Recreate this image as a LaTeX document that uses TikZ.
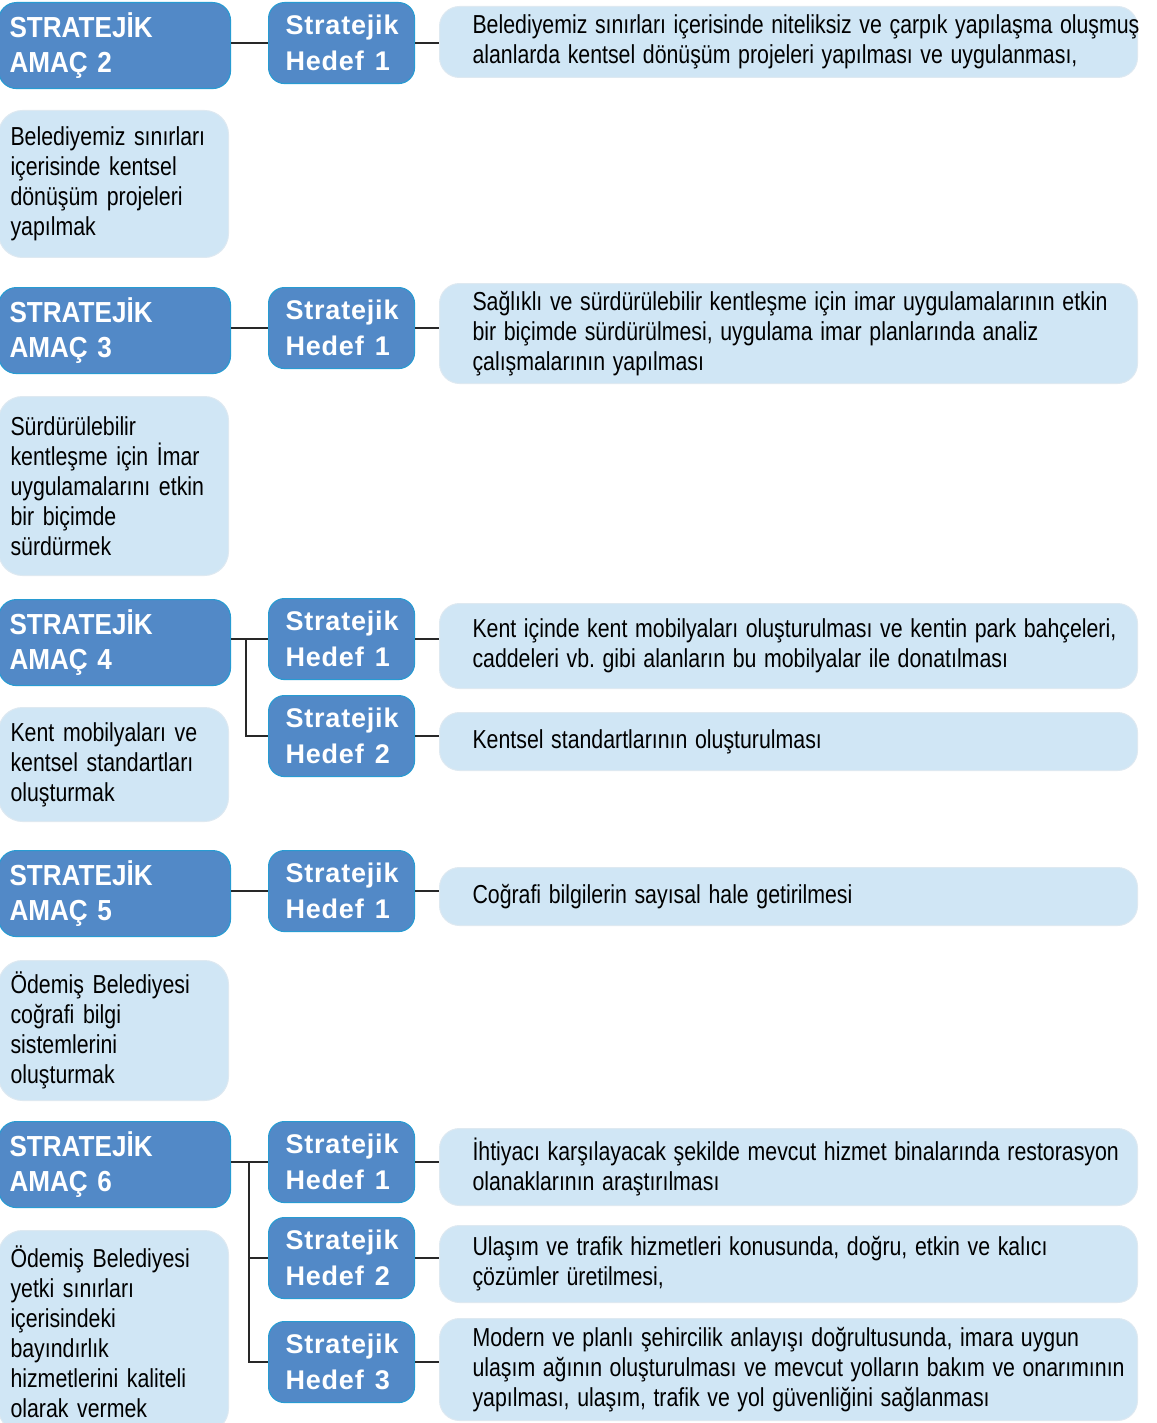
\documentclass[tikz,border=0pt]{standalone}
\usepackage{fontspec}
\setmainfont{Liberation Sans}
\newfontfamily\bodyf[FakeStretch=0.82]{Liberation Sans}
\newfontfamily\titlef[FakeStretch=0.9]{Liberation Sans}
\newfontfamily\hedeff[LetterSpace=3]{Liberation Sans}
\definecolor{dkblue}{RGB}{82,137,199}
\definecolor{dkedge}{RGB}{40,155,210}
\definecolor{ltblue}{RGB}{208,230,245}
\definecolor{ltedge}{RGB}{222,233,241}
\definecolor{conn}{RGB}{40,40,40}
\newcommand{\li}[1]{\mbox{\spaceskip=7.6pt\xspaceskip=7.6pt #1}}
\tikzset{
  amac/.style={anchor=north west, rounded corners=18pt, fill=dkblue, draw=dkedge, line width=1.1pt,
    minimum height=86pt, text width=210pt, inner xsep=11pt, inner ysep=2pt, align=left, text=white,
    font={\titlef\bfseries\fontsize{29}{35}\selectfont}},
  hedef/.style={anchor=north west, rounded corners=16pt, fill=dkblue, draw=dkedge, line width=1.1pt,
    minimum height=81pt, text width=112pt, inner xsep=17pt, inner ysep=2pt, align=left, text=white,
    font={\hedeff\bfseries\fontsize{27}{36}\selectfont}},
  desc/.style={anchor=north west, rounded corners=20pt, fill=ltblue, draw=ltedge, line width=1pt,
    text width=632pt, inner xsep=33pt, inner ysep=2pt, align=left, text=black,
    font={\bodyf\fontsize{26}{30}\selectfont}},
  lbox/.style={anchor=north west, rounded corners=24pt, fill=ltblue, draw=ltedge, line width=1pt,
    text width=206pt, inner xsep=12pt, inner ysep=2pt, align=left, text=black,
    font={\bodyf\fontsize{26}{30}\selectfont}},
  link/.style={draw=conn, line width=1.2pt}
}
\begin{document}
\begin{tikzpicture}[x=1pt,y=-1pt]
\useasboundingbox (0,0) rectangle (1156,1423);
% ---------- AMAC 2
\node[amac] (a2) at (-2,2) {STRATEJİK\\AMAÇ 2};
\node[hedef] (h21) at (268,2) {Stratejik\\Hedef\hspace{2pt} 1};
\node[desc, minimum height=71pt] (d21) at (439,6) {\li{Belediyemiz sınırları içerisinde niteliksiz ve çarpık yapılaşma oluşmuş}\\\li{alanlarda kentsel dönüşüm projeleri yapılması ve uygulanması,}};
\node[lbox, minimum height=147pt] (l2) at (-2,110) {Belediyemiz sınırları\\içerisinde kentsel\\dönüşüm projeleri\\yapılmak};
\draw[link] (h21.west -| a2.east) -- (h21.west);
\draw[link] (h21.east) -- (h21.east -| d21.west);
% ---------- AMAC 3
\node[amac] (a3) at (-2,287) {STRATEJİK\\AMAÇ 3};
\node[hedef] (h31) at (268,287) {Stratejik\\Hedef\hspace{2pt} 1};
\node[desc, minimum height=100pt] (d31) at (439,283) {\li{Sağlıklı ve sürdürülebilir kentleşme için imar uygulamalarının etkin}\\\li{bir biçimde sürdürülmesi, uygulama imar planlarında analiz}\\\li{çalışmalarının yapılması}};
\node[lbox, minimum height=179pt] (l3) at (-2,396) {Sürdürülebilir\\kentleşme için İmar\\uygulamalarını etkin\\bir biçimde\\sürdürmek};
\draw[link] (h31.west -| a3.east) -- (h31.west);
\draw[link] (h31.east) -- (h31.east -| d31.west);
% ---------- AMAC 4
\node[amac] (a4) at (-2,599) {STRATEJİK\\AMAÇ 4};
\node[hedef] (h41) at (268,598) {Stratejik\\Hedef\hspace{2pt} 1};
\node[hedef] (h42) at (268,695) {Stratejik\\Hedef\hspace{2pt} 2};
\node[desc, minimum height=85pt] (d41) at (439,603) {\li{Kent içinde kent mobilyaları oluşturulması ve kentin park bahçeleri,}\\\li{caddeleri vb. gibi alanların bu mobilyalar ile donatılması}};
\node[desc, minimum height=58pt] (d42) at (439,712) {\li{Kentsel standartlarının oluşturulması}};
\node[lbox, minimum height=114pt] (l4) at (-2,707) {Kent mobilyaları ve\\kentsel standartları\\oluşturmak};
\coordinate (j4) at (246,0);
\draw[link] (h41.west -| a4.east) -- (h41.west);
\draw[link] (h41.west -| j4) |- (h42.west);
\draw[link] (h41.east) -- (h41.east -| d41.west);
\draw[link] (h42.east) -- (h42.east -| d42.west);
% ---------- AMAC 5
\node[amac] (a5) at (-2,850) {STRATEJİK\\AMAÇ 5};
\node[hedef] (h51) at (268,850) {Stratejik\\Hedef\hspace{2pt} 1};
\node[desc, minimum height=58pt] (d51) at (439,867) {\li{Coğrafi bilgilerin sayısal hale getirilmesi}};
\node[lbox, minimum height=140pt] (l5) at (-2,960) {Ödemiş Belediyesi\\coğrafi bilgi\\sistemlerini\\oluşturmak};
\draw[link] (h51.west -| a5.east) -- (h51.west);
\draw[link] (h51.east) -- (h51.east -| d51.west);
% ---------- AMAC 6
\node[amac] (a6) at (-2,1121) {STRATEJİK\\AMAÇ 6};
\node[hedef] (h61) at (268,1121) {Stratejik\\Hedef\hspace{2pt} 1};
\node[hedef] (h62) at (268,1217) {Stratejik\\Hedef\hspace{2pt} 2};
\node[hedef] (h63) at (268,1321) {Stratejik\\Hedef\hspace{2pt} 3};
\node[desc, minimum height=77pt] (d61) at (439,1128) {\li{İhtiyacı karşılayacak şekilde mevcut hizmet binalarında restorasyon}\\\li{olanaklarının araştırılması}};
\node[desc, minimum height=77pt] (d62) at (439,1225) {\li{Ulaşım ve trafik hizmetleri konusunda, doğru, etkin ve kalıcı}\\\li{çözümler üretilmesi,}};
\node[desc, minimum height=102pt] (d63) at (439,1318) {\li{Modern ve planlı şehircilik anlayışı doğrultusunda, imara uygun}\\\li{ulaşım ağının oluşturulması ve mevcut yolların bakım ve onarımının}\\\li{yapılması, ulaşım, trafik ve yol güvenliğini sağlanması}};
\node[lbox, minimum height=202pt] (l6) at (-2,1230) {Ödemiş Belediyesi\\yetki sınırları\\içerisindeki\\bayındırlık\\hizmetlerini kaliteli\\olarak vermek};
\coordinate (j6) at (249,0);
\draw[link] (h61.west -| a6.east) -- (h61.west);
\draw[link] (h61.west -| j6) |- (h63.west);
\draw[link] (h62.west -| j6) -- (h62.west);
\draw[link] (h61.east) -- (h61.east -| d61.west);
\draw[link] (h62.east) -- (h62.east -| d62.west);
\draw[link] (h63.east) -- (h63.east -| d63.west);
\end{tikzpicture}
\end{document}
